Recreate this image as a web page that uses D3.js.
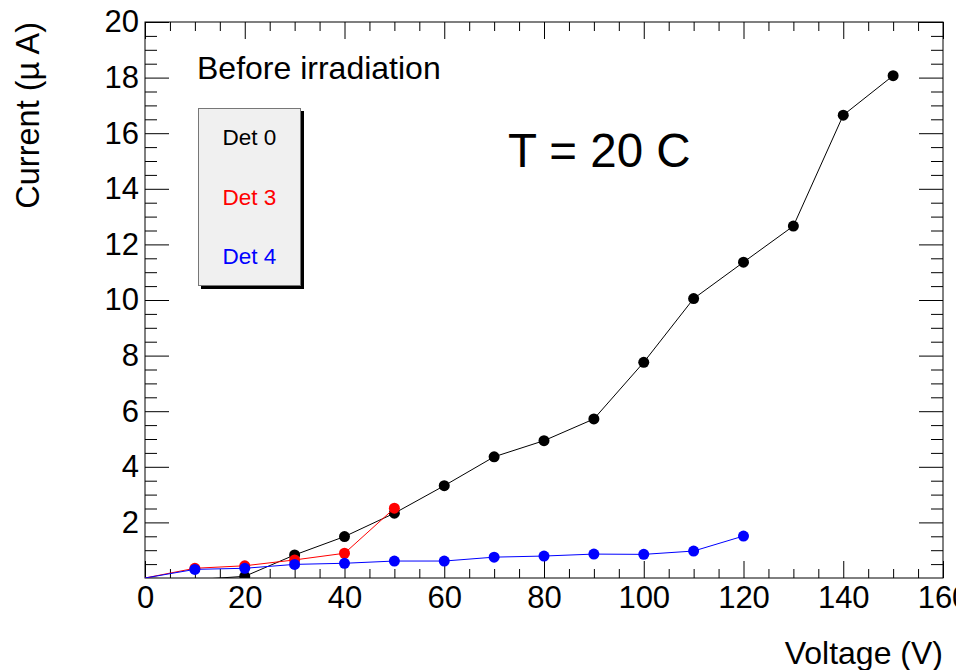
<!DOCTYPE html>
<html>
<head>
<meta charset="utf-8">
<script src="https://cdn.jsdelivr.net/npm/d3@7"></script>
<style>
  body { margin: 0; background: #fff; }
  svg { display: block; font-family: "Liberation Sans", Arial, Helvetica, sans-serif; }
</style>
</head>
<body>
<svg id="chart" width="956" height="670"></svg>
<script>
// data
const voltage = [0, 10, 20, 30, 40, 50, 60, 70, 80, 90, 100, 110, 120, 130, 140, 150];
const det0 = [0, -0.06, 0.06, 0.83, 1.49, 2.33, 3.32, 4.36, 4.94, 5.72, 7.76, 10.05, 11.36, 12.66, 16.65, 18.07];
const det3 = [0, 0.35, 0.44, 0.65, 0.89, 2.51];
const det4 = [0, 0.31, 0.35, 0.49, 0.53, 0.61, 0.61, 0.75, 0.79, 0.86, 0.85, 0.97, 1.51];

const seriesNames = ["Det 0", "Det 3", "Det 4"];
const seriesColors = ["#000000", "#ff0000", "#0000ff"];
const seriesValues = [det0, det3, det4];

const xTicks = [0, 20, 40, 60, 80, 100, 120, 140, 160];
const yTicks = [2, 4, 6, 8, 10, 12, 14, 16, 18, 20];

const width = 956, height = 670;
const frame = {left: 145, right: 943, top: 22, bottom: 578};
const labelSize = 31;

let svg = d3.select("#chart");

let xScale = d3.scaleLinear().domain([0, 160]).range([frame.left, frame.right]);
let yScale = d3.scaleLinear().domain([0, 20]).range([frame.bottom, frame.top]);

let xMinor = d3.range(0, 161, 5).filter(d => d % 20 !== 0);
let yMinor = d3.range(0, 20.01, 0.5).filter(d => d % 2 !== 0);

// clip for the data
svg.append("defs").append("clipPath")
    .attr("id", "plotClip")
    .append("rect")
    .attr("x", frame.left)
    .attr("y", frame.top)
    .attr("width", frame.right - frame.left)
    .attr("height", frame.bottom - frame.top);

function styleAxis(g) {
    g.select(".domain").remove();
    g.selectAll("line").attr("stroke", "#000").attr("stroke-width", 1);
    g.selectAll("text")
        .style("font-size", labelSize + "px")
        .style("fill", "#000");
}

// bottom axis, ticks inside
svg.append("g")
    .attr("transform", "translate(0," + frame.bottom + ")")
    .call(d3.axisBottom(xScale).tickValues(xTicks).tickSize(-17).tickPadding(8))
    .call(styleAxis);
svg.append("g")
    .attr("transform", "translate(0," + frame.bottom + ")")
    .call(d3.axisBottom(xScale).tickValues(xMinor).tickSize(-9).tickFormat(""))
    .call(styleAxis);

// top axis ticks
svg.append("g")
    .attr("transform", "translate(0," + frame.top + ")")
    .call(d3.axisTop(xScale).tickValues(xTicks).tickSize(-17).tickFormat(""))
    .call(styleAxis);
svg.append("g")
    .attr("transform", "translate(0," + frame.top + ")")
    .call(d3.axisTop(xScale).tickValues(xMinor).tickSize(-9).tickFormat(""))
    .call(styleAxis);

// left axis
svg.append("g")
    .attr("transform", "translate(" + frame.left + ",0)")
    .call(d3.axisLeft(yScale).tickValues(yTicks).tickSize(-24).tickPadding(6))
    .call(styleAxis);
svg.append("g")
    .attr("transform", "translate(" + frame.left + ",0)")
    .call(d3.axisLeft(yScale).tickValues(yMinor).tickSize(-12).tickFormat(""))
    .call(styleAxis);

// right axis ticks
svg.append("g")
    .attr("transform", "translate(" + frame.right + ",0)")
    .call(d3.axisRight(yScale).tickValues(yTicks).tickSize(-24).tickFormat(""))
    .call(styleAxis);
svg.append("g")
    .attr("transform", "translate(" + frame.right + ",0)")
    .call(d3.axisRight(yScale).tickValues(yMinor).tickSize(-12).tickFormat(""))
    .call(styleAxis);

// frame
svg.append("rect")
    .attr("x", frame.left)
    .attr("y", frame.top)
    .attr("width", frame.right - frame.left)
    .attr("height", frame.bottom - frame.top)
    .attr("fill", "none")
    .attr("stroke", "#000")
    .attr("stroke-width", 1);

// axis titles
svg.append("text")
    .attr("x", frame.right)
    .attr("y", 664)
    .attr("text-anchor", "end")
    .style("font-size", "32px")
    .text("Voltage (V)");

svg.append("text")
    .attr("transform", "translate(39," + frame.top + ") rotate(-90)")
    .attr("text-anchor", "end")
    .style("font-size", "32.5px")
    .text("Current (\u00b5 A)");

// series
let line = d3.line()
    .x(d => xScale(d[0]))
    .y(d => yScale(d[1]));

let plot = svg.append("g").attr("clip-path", "url(#plotClip)");

seriesValues.forEach(function(vals, i) {
    let pts = vals.map((v, j) => [voltage[j], v]);
    plot.append("path")
        .datum(pts)
        .attr("d", line)
        .attr("fill", "none")
        .attr("stroke", seriesColors[i])
        .attr("stroke-width", 1);
    plot.selectAll(".pt" + i)
        .data(pts.filter(p => p[0] > 0 && p[1] >= 0))
        .enter()
        .append("circle")
        .attr("class", "pt" + i)
        .attr("cx", d => xScale(d[0]))
        .attr("cy", d => yScale(d[1]))
        .attr("r", 5.5)
        .attr("fill", seriesColors[i]);
});

// annotations
svg.append("text")
    .attr("x", 197)
    .attr("y", 79)
    .style("font-size", "32px")
    .text("Before irradiation");

svg.append("text")
    .attr("x", 508)
    .attr("y", 167)
    .style("font-size", "47.5px")
    .text("T = 20 C");

// legend box with shadow
let legend = svg.append("g");
legend.append("rect")
    .attr("x", 201).attr("y", 111)
    .attr("width", 103).attr("height", 178)
    .attr("fill", "#000");
legend.append("rect")
    .attr("x", 198.5).attr("y", 108.5)
    .attr("width", 102).attr("height", 177)
    .attr("fill", "#f0f0f0")
    .attr("stroke", "#777")
    .attr("stroke-width", 1);
seriesNames.forEach(function(name, i) {
    legend.append("text")
        .attr("x", 249.5)
        .attr("y", 145 + i * 59.5)
        .attr("text-anchor", "middle")
        .style("font-size", "22.5px")
        .style("fill", seriesColors[i])
        .text(name);
});
</script>
</body>
</html>
